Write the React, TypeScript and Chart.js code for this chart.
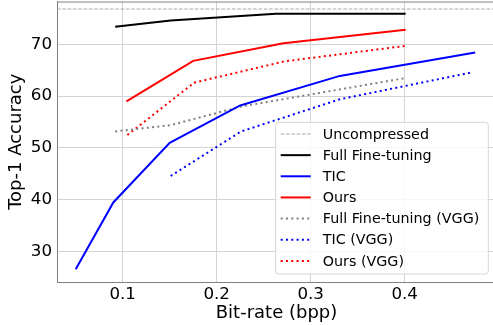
import React, { useEffect, useRef } from "react";
import { Chart, registerables } from "chart.js";

Chart.register(...registerables);

const X_MIN = 0.0301;
const X_MAX = 0.4971;
const Y_MIN = 24.16;
const Y_MAX = 78.25;
const xTicks = [0.1, 0.2, 0.3, 0.4];
const yTicks = [30, 40, 50, 60, 70];

const uncompressedY = 76.8;

const ffX = [0.092, 0.151, 0.263, 0.401];
const ffY = [73.4, 74.6, 75.9, 75.9];

const ticX = [0.05, 0.09, 0.15, 0.225, 0.331, 0.475];
const ticY = [26.6, 39.5, 51.0, 58.2, 63.9, 68.4];

const oursX = [0.104, 0.175, 0.271, 0.401];
const oursY = [59.0, 66.8, 70.2, 72.8];

const ffVggX = [0.092, 0.151, 0.226, 0.401];
const ffVggY = [53.2, 54.4, 58.0, 63.5];

const ticVggX = [0.151, 0.226, 0.331, 0.472];
const ticVggY = [44.6, 53.2, 59.4, 64.6];

const oursVggX = [0.105, 0.176, 0.272, 0.401];
const oursVggY = [52.5, 62.6, 66.7, 69.7];

const FONT = "'DejaVu Sans', sans-serif";
const DOTTED = [2, 3.3];
const DASHED = [3.7, 1.6];

const pts = (xs: number[], ys: number[]) => xs.map((x, i) => ({ x, y: ys[i] }));

const legendPlugin = {
  id: "mplLegend",
  afterDatasetsDraw(chart: any) {
    const ctx = chart.ctx;
    const area = chart.chartArea;
    ctx.save();
    ctx.strokeStyle = "#808080";
    ctx.lineWidth = 1;
    ctx.beginPath();
    ctx.moveTo(area.left, area.top + 0.5);
    ctx.lineTo(area.right, area.top + 0.5);
    ctx.stroke();

    const bx = 275.7, by = 122.3, bw = 212.6, bh = 151.7, r = 3;
    ctx.fillStyle = "rgba(255,255,255,0.8)";
    ctx.strokeStyle = "#d6d6d6";
    ctx.lineWidth = 1;
    ctx.beginPath();
    ctx.moveTo(bx + r, by);
    ctx.lineTo(bx + bw - r, by);
    ctx.arcTo(bx + bw, by, bx + bw, by + r, r);
    ctx.lineTo(bx + bw, by + bh - r);
    ctx.arcTo(bx + bw, by + bh, bx + bw - r, by + bh, r);
    ctx.lineTo(bx + r, by + bh);
    ctx.arcTo(bx, by + bh, bx, by + bh - r, r);
    ctx.lineTo(bx, by + r);
    ctx.arcTo(bx, by, bx + r, by, r);
    ctx.closePath();
    ctx.fill();
    ctx.stroke();

    chart.data.datasets.forEach((ds: any, i: number) => {
      const cy = 134 + i * 21.15;
      ctx.strokeStyle = ds.borderColor;
      ctx.lineWidth = ds.borderWidth;
      ctx.setLineDash(ds.borderDash || []);
      ctx.beginPath();
      ctx.moveTo(280.7, cy);
      ctx.lineTo(310.7, cy);
      ctx.stroke();
      ctx.setLineDash([]);
      ctx.fillStyle = "#000";
      ctx.font = `14.3px ${FONT}`;
      ctx.textBaseline = "middle";
      ctx.textAlign = "left";
      ctx.fillText(ds.label, 322.7, cy + 1);
    });
    ctx.restore();
  },
};

export default function App() {
  const ref = useRef<HTMLCanvasElement>(null);
  useEffect(() => {
    const mk = (label: string, data: any[], color: string, width: number, dash: number[] | undefined) => ({
      label,
      data,
      borderColor: color,
      backgroundColor: color,
      borderWidth: width,
      borderDash: dash,
      pointRadius: 0,
      fill: false,
      tension: 0,
    });
    const chart = new Chart(ref.current!, {
      type: "line",
      data: {
        datasets: [
          mk("Uncompressed", [{ x: X_MIN, y: uncompressedY }, { x: X_MAX, y: uncompressedY }], "#aaaaaa", 1.2, DASHED),
          mk("Full Fine-tuning", pts(ffX, ffY), "#000000", 2, undefined),
          mk("TIC", pts(ticX, ticY), "#0000ff", 2, undefined),
          mk("Ours", pts(oursX, oursY), "#ff0000", 2, undefined),
          mk("Full Fine-tuning (VGG)", pts(ffVggX, ffVggY), "#808080", 2, DOTTED),
          mk("TIC (VGG)", pts(ticVggX, ticVggY), "#0000ff", 2, DOTTED),
          mk("Ours (VGG)", pts(oursVggX, oursVggY), "#ff0000", 2, DOTTED),
        ],
      },
      options: {
        animation: false,
        responsive: false,
        devicePixelRatio: 1,
        layout: { padding: { top: 1.5, right: 4, left: 0, bottom: 0 } },
        plugins: { legend: { display: false }, tooltip: { enabled: false } },
        scales: {
          x: {
            type: "linear",
            min: X_MIN,
            max: X_MAX,
            afterBuildTicks: (s: any) => { s.ticks = xTicks.map((v) => ({ value: v })); },
            afterFit: (s: any) => { s.height = 43; s.paddingLeft = 0; s.paddingRight = 0; },
            grid: { color: "#d4d4d4", lineWidth: 1, drawTicks: false },
            border: { color: "#808080", width: 1 },
            ticks: {
              color: "#000",
              font: { family: FONT, size: 16.7 },
              padding: 3,
              maxRotation: 0,
              callback: (v: any) => String(v),
            },
            title: {
              display: true,
              text: "Bit-rate (bpp)",
              color: "#000",
              font: { family: FONT, size: 18 },
              padding: { top: 0, bottom: 1 },
            },
          },
          y: {
            type: "linear",
            min: Y_MIN,
            max: Y_MAX,
            afterBuildTicks: (s: any) => { s.ticks = yTicks.map((v) => ({ value: v })); },
            afterFit: (s: any) => { s.width = 57; s.paddingTop = 0; s.paddingBottom = 0; },
            grid: { color: "#d4d4d4", lineWidth: 1, drawTicks: false },
            border: { color: "#808080", width: 1 },
            ticks: {
              color: "#000",
              font: { family: FONT, size: 16.7 },
              padding: 5,
              callback: (v: any) => String(v),
            },
            title: {
              display: true,
              text: "Top-1 Accuracy",
              color: "#000",
              font: { family: FONT, size: 18 },
              padding: { top: 6, bottom: 0 },
            },
          },
        },
      },
      plugins: [legendPlugin],
    });
    return () => chart.destroy();
  }, []);
  return (
    <div style={{ position: "fixed", left: 0, top: 0, width: 493, height: 325, overflow: "hidden", background: "#fff" }}>
      <canvas ref={ref} width={500} height={325} style={{ display: "block" }} />
    </div>
  );
}
